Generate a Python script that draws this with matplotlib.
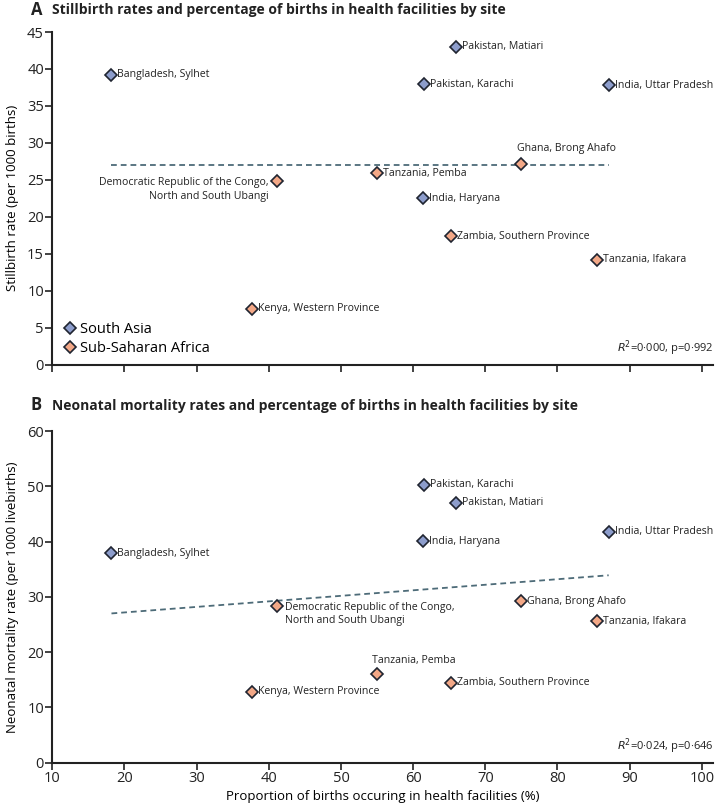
"""Stillbirth and neonatal mortality vs facility births, by site."""
import matplotlib
matplotlib.use("Agg")
import matplotlib.pyplot as plt

plt.rcParams["font.family"] = ["Open Sans", "DejaVu Sans"]

sites = ["Bangladesh, Sylhet", "Pakistan, Matiari", "Pakistan, Karachi",
         "India, Uttar Pradesh", "India, Haryana",
         "Ghana, Brong Ahafo", "Tanzania, Pemba",
         "Democratic Republic of the Congo,\nNorth and South Ubangi",
         "Zambia, Southern Province", "Tanzania, Ifakara", "Kenya, Western Province"]
region = ["South Asia"] * 5 + ["Sub-Saharan Africa"] * 6
facility_pct = [18.2, 66.0, 61.5, 87.1, 61.4, 74.9, 55.0, 41.1, 65.3, 85.5, 37.7]
stillbirth = [39.2, 43.0, 37.9, 37.8, 22.5, 27.1, 25.9, 24.8, 17.4, 14.2, 7.6]
neonatal = [37.9, 47.0, 50.3, 41.8, 40.1, 29.2, 16.0, 28.3, 14.5, 25.6, 12.8]

trend_x = [18.2, 87.1]
trend_a = [27.0, 27.0]
trend_b = [27.0, 33.9]

colors = {"South Asia": "#8d9dcc", "Sub-Saharan Africa": "#f3a887"}
edge = "#1f2430"

# label placement per site: (dx px, dy px, ha, va)
place_a = {
    "Ghana, Brong Ahafo": (-4, 10, "left", "bottom"),
    "Democratic Republic of the Congo,\nNorth and South Ubangi": (-8, -8, "right", "center"),
}
place_b = {
    "Tanzania, Pemba": (-5, 8, "left", "bottom"),
    "Democratic Republic of the Congo,\nNorth and South Ubangi": (8, -8, "left", "center"),
}

fig = plt.figure(figsize=(7.15, 8.07), dpi=100)
ax_a = fig.add_axes([52.3 / 715, 1 - 364.7 / 807, 661 / 715, 332.7 / 807])
ax_b = fig.add_axes([52.3 / 715, 1 - 762.7 / 807, 661 / 715, 331.7 / 807])


def draw(ax, yvals, trend, place, ylim, ystep):
    ax.plot(trend_x, trend, color="#4d6b78", linestyle=(0, (3.2, 2.2)), linewidth=1.3, zorder=1)
    for reg in colors:
        xs = [x for x, r in zip(facility_pct, region) if r == reg]
        ys = [y for y, r in zip(yvals, region) if r == reg]
        ax.plot(xs, ys, linestyle="none", marker="D", markersize=6.3,
                markerfacecolor=colors[reg], markeredgecolor=edge,
                markeredgewidth=1.2, label=reg, zorder=3)
    for name, x, y in zip(sites, facility_pct, yvals):
        dx, dy, ha, va = place.get(name, (6, 0, "left", "center"))
        ax.annotate(name, (x, y), xytext=(dx, dy), textcoords="offset pixels",
                    ha=ha, va=va, multialignment=ha, fontsize=7.6, color="#222222",
                    linespacing=1.3, annotation_clip=False)
    ax.set_xlim(10, 101.6)
    ax.set_ylim(*ylim)
    ax.set_xticks(range(10, 101, 10))
    ax.set_yticks(range(0, ylim[1] + 1, ystep))
    for s in ["top", "right"]:
        ax.spines[s].set_visible(False)
    for s in ["left", "bottom"]:
        ax.spines[s].set_linewidth(1.5)
        ax.spines[s].set_color("#222222")
    ax.tick_params(direction="out", length=5, width=1.2, labelsize=10.5,
                   colors="#222222", pad=1)
    ax.patch.set_alpha(0)


draw(ax_a, stillbirth, trend_a, place_a, (0, 45), 5)
draw(ax_b, neonatal, trend_b, place_b, (0, 60), 10)
ax_a.tick_params(axis="x", labelbottom=False)
ax_a.spines["bottom"].set_zorder(5)

leg = ax_a.legend(loc="lower left", bbox_to_anchor=(0.0, 0.0), frameon=False,
                  fontsize=10.5, handletextpad=0.1, borderaxespad=0.2,
                  labelspacing=0.25, handlelength=1.2, markerscale=1.0)

ax_a.set_ylabel("Stillbirth rate (per 1000 births)", fontsize=9.5, labelpad=6)
ax_b.set_ylabel("Neonatal mortality rate (per 1000 livebirths)", fontsize=9.5, labelpad=6)
ax_b.set_xlabel("Proportion of births occuring in health facilities (%)", fontsize=9.5, labelpad=3)

ax_a.text(1.0, 0.02, "$\\it{R}$$^2$=0·000, p=0·992", transform=ax_a.transAxes,
          ha="right", va="bottom", fontsize=8, color="#222222")
ax_b.text(1.0, 0.02, "$\\it{R}$$^2$=0·024, p=0·646", transform=ax_b.transAxes,
          ha="right", va="bottom", fontsize=8, color="#222222")

fig.text(31 / 715, 1 - 10 / 807, "A", fontsize=12, fontweight="bold", va="center", color="#222222")
fig.text(51.7 / 715, 1 - 10 / 807, "Stillbirth rates and percentage of births in health facilities by site",
         fontsize=10, fontweight="bold", va="center", color="#222222")
fig.text(31 / 715, 1 - 405 / 807, "B", fontsize=12, fontweight="bold", va="center", color="#222222")
fig.text(51.7 / 715, 1 - 406 / 807, "Neonatal mortality rates and percentage of births in health facilities by site",
         fontsize=10, fontweight="bold", va="center", color="#222222")

plt.savefig("out.png", dpi=100)
plt.close()
